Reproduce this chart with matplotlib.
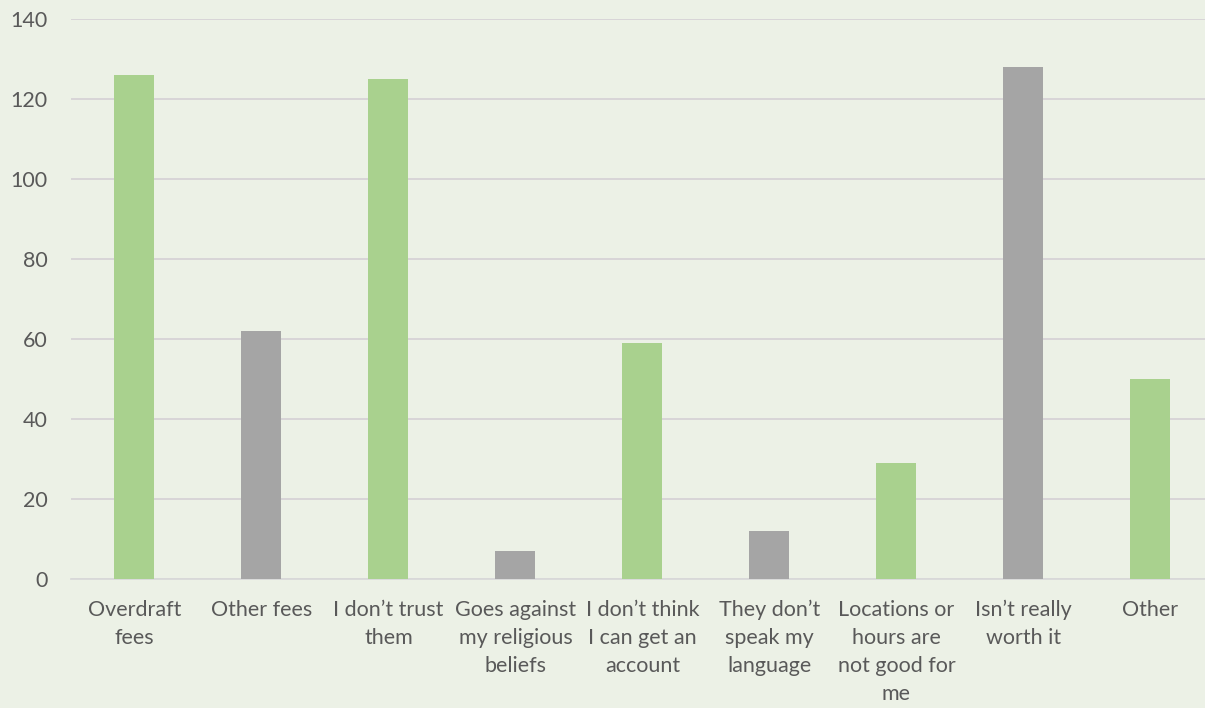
import matplotlib.pyplot as plt
import numpy as np

categories = [
    "Overdraft\nfees",
    "Other fees",
    "I don\u2019t trust\nthem",
    "Goes against\nmy religious\nbeliefs",
    "I don\u2019t think\nI can get an\naccount",
    "They don\u2019t\nspeak my\nlanguage",
    "Locations or\nhours are\nnot good for\nme",
    "Isn\u2019t really\nworth it",
    "Other",
]
values = [126, 62, 125, 7, 59, 12, 29, 128, 50]
bar_colors = ["#A9D18E", "#A5A5A5"] * 4 + ["#A9D18E"]
y_ticks = [0, 20, 40, 60, 80, 100, 120, 140]

bg = "#ECF1E6"
text_col = "#595959"
plt.rcParams['font.family'] = ['Lato', 'DejaVu Sans']

fig = plt.figure(figsize=(12.05, 7.08), dpi=100, facecolor=bg)
# axes from x=71px to the right edge, y=0 at 579px, y=140 at 19px
ax = fig.add_axes([71 / 1205, (708 - 579) / 708, (1205 - 71) / 1205, 560 / 708])
ax.set_facecolor(bg)

x = np.arange(len(categories))
ax.bar(x, values, width=0.315, color=bar_colors, zorder=3)

ax.set_xlim(-0.5, 8.43)
ax.set_ylim(0, 140)
ax.set_yticks(y_ticks)
ax.set_yticklabels([str(v) for v in y_ticks])
ax.set_xticks(x)
ax.set_xticklabels(categories, linespacing=1.5, va="top")

ax.grid(axis="y", color="#D6D2D6", linewidth=1.3, zorder=0)
ax.set_axisbelow(True)
for s in ["top", "right", "left"]:
    ax.spines[s].set_visible(False)
ax.spines["bottom"].set_color("#D9D9D9")
ax.spines["bottom"].set_linewidth(1.3)

ax.tick_params(axis="both", length=0, colors=text_col, labelsize=15.5)
ax.tick_params(axis="y", pad=17)
ax.tick_params(axis="x", pad=15)

fig.savefig("out.png", dpi=100, facecolor=bg)
